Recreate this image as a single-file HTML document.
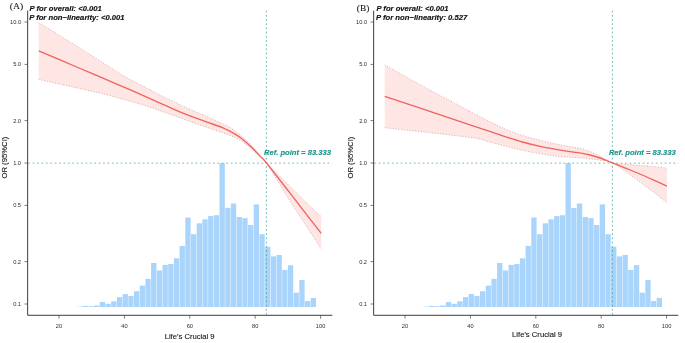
<!DOCTYPE html>
<html><head><meta charset="utf-8"><title>RCS</title>
<style>
html,body{margin:0;padding:0;background:#fff}
svg{display:block}
text{font-family:"Liberation Sans",Arial,sans-serif}
.tk{font-size:5.7px;fill:#2e2e2e}
.ti{font-size:7.7px;fill:#111;stroke:#111;stroke-width:0.1px}
.pl{font-family:"Liberation Serif","Times New Roman",serif;font-size:8.6px;fill:#1a1a1a;stroke:#1a1a1a;stroke-width:0.1px}
.pv{font-size:7.4px;font-weight:bold;font-style:italic;fill:#111;stroke:#111;stroke-width:0.15px}
.rf{font-size:7.4px;font-weight:bold;font-style:italic;fill:#1F958C;stroke:#1F958C;stroke-width:0.15px}
</style></head><body>
<svg width="685" height="343" viewBox="0 0 685 343">
<rect width="685" height="343" fill="#fff"/>
<rect x="82.70" y="305.9" width="5.30" height="1.1" fill="#A9D4FB"/>
<rect x="88.40" y="306.2" width="5.30" height="0.8" fill="#A9D4FB"/>
<rect x="94.10" y="305.5" width="5.30" height="1.5" fill="#A9D4FB"/>
<rect x="99.80" y="302.0" width="5.30" height="5.0" fill="#A9D4FB"/>
<rect x="105.50" y="303.8" width="5.30" height="3.2" fill="#A9D4FB"/>
<rect x="111.20" y="301.3" width="5.30" height="5.7" fill="#A9D4FB"/>
<rect x="116.90" y="297.1" width="5.30" height="9.9" fill="#A9D4FB"/>
<rect x="122.60" y="294.0" width="5.30" height="13.0" fill="#A9D4FB"/>
<rect x="128.30" y="295.9" width="5.30" height="11.1" fill="#A9D4FB"/>
<rect x="134.00" y="291.2" width="5.30" height="15.8" fill="#A9D4FB"/>
<rect x="139.70" y="285.7" width="5.30" height="21.3" fill="#A9D4FB"/>
<rect x="145.40" y="278.9" width="5.30" height="28.1" fill="#A9D4FB"/>
<rect x="151.10" y="263.0" width="5.30" height="44.0" fill="#A9D4FB"/>
<rect x="156.80" y="270.5" width="5.30" height="36.5" fill="#A9D4FB"/>
<rect x="162.50" y="264.9" width="5.30" height="42.1" fill="#A9D4FB"/>
<rect x="168.20" y="264.0" width="5.30" height="43.0" fill="#A9D4FB"/>
<rect x="173.90" y="258.3" width="5.30" height="48.7" fill="#A9D4FB"/>
<rect x="179.60" y="245.9" width="5.30" height="61.1" fill="#A9D4FB"/>
<rect x="185.30" y="217.5" width="5.30" height="89.5" fill="#A9D4FB"/>
<rect x="191.00" y="234.2" width="5.30" height="72.8" fill="#A9D4FB"/>
<rect x="196.70" y="223.3" width="5.30" height="83.7" fill="#A9D4FB"/>
<rect x="202.40" y="219.3" width="5.30" height="87.7" fill="#A9D4FB"/>
<rect x="208.10" y="216.1" width="5.30" height="90.9" fill="#A9D4FB"/>
<rect x="213.80" y="215.2" width="5.30" height="91.8" fill="#A9D4FB"/>
<rect x="219.50" y="163.1" width="5.30" height="143.9" fill="#A9D4FB"/>
<rect x="225.20" y="207.9" width="5.30" height="99.1" fill="#A9D4FB"/>
<rect x="230.90" y="203.5" width="5.30" height="103.5" fill="#A9D4FB"/>
<rect x="236.60" y="217.0" width="5.30" height="90.0" fill="#A9D4FB"/>
<rect x="242.30" y="218.2" width="5.30" height="88.8" fill="#A9D4FB"/>
<rect x="248.00" y="225.0" width="5.30" height="82.0" fill="#A9D4FB"/>
<rect x="253.70" y="204.4" width="5.30" height="102.6" fill="#A9D4FB"/>
<rect x="259.40" y="234.2" width="5.30" height="72.8" fill="#A9D4FB"/>
<rect x="265.10" y="246.8" width="5.30" height="60.2" fill="#A9D4FB"/>
<rect x="270.80" y="256.4" width="5.30" height="50.6" fill="#A9D4FB"/>
<rect x="276.50" y="255.0" width="5.30" height="52.0" fill="#A9D4FB"/>
<rect x="282.20" y="269.9" width="5.30" height="37.1" fill="#A9D4FB"/>
<rect x="287.90" y="265.2" width="5.30" height="41.8" fill="#A9D4FB"/>
<rect x="293.60" y="292.7" width="5.30" height="14.3" fill="#A9D4FB"/>
<rect x="299.30" y="280.0" width="5.30" height="27.0" fill="#A9D4FB"/>
<rect x="305.00" y="301.1" width="5.30" height="5.9" fill="#A9D4FB"/>
<rect x="310.70" y="297.9" width="5.30" height="9.1" fill="#A9D4FB"/>
<rect x="76.80" y="306.5" width="5.70" height="0.5" fill="#A9D4FB" opacity="0.5"/>
<path d="M38.7 22.6 C45.8 27.0 71.1 42.6 81.3 49.0 C91.5 55.4 94.5 57.3 100.0 60.8 C105.5 64.3 109.7 67.2 114.6 70.2 C119.5 73.2 124.3 76.3 129.2 79.0 C134.1 81.7 138.9 84.1 143.8 86.6 C148.7 89.1 153.5 91.8 158.4 94.2 C163.3 96.6 167.7 98.7 173.0 101.2 C178.3 103.7 184.2 106.7 190.0 109.3 C195.8 111.9 201.7 114.2 207.5 116.8 C213.3 119.4 220.6 122.6 225.0 124.8 C229.4 127.0 230.9 128.0 233.8 130.0 C236.7 132.0 239.6 134.3 242.5 136.9 C245.4 139.5 248.4 142.2 251.3 145.3 C254.2 148.4 257.5 152.4 260.0 155.3 C262.5 158.2 258.4 154.8 266.5 163.0 C274.6 171.2 299.3 195.7 308.4 204.6 C317.5 213.5 319.1 214.6 321.2 216.6 L321.2 248.7 C316.4 241.3 301.4 218.9 292.3 204.6 C283.2 190.3 271.9 170.9 266.5 163.0 C261.1 155.1 262.5 159.3 260.0 156.9 C257.5 154.5 254.2 151.3 251.3 148.8 C248.4 146.3 245.4 143.8 242.5 141.8 C239.6 139.8 237.1 138.4 233.8 136.9 C230.6 135.4 227.2 134.4 223.0 132.9 C218.8 131.4 213.3 129.6 208.4 127.9 C203.5 126.2 198.7 124.6 193.8 122.9 C188.9 121.2 184.1 119.3 179.2 117.6 C174.3 115.8 169.5 114.1 164.6 112.4 C159.7 110.7 155.9 109.1 150.0 107.2 C144.1 105.3 137.5 103.3 129.2 101.0 C120.9 98.7 115.1 96.8 100.0 93.2 C84.9 89.6 48.9 81.7 38.7 79.4 Z" fill="#FDE4E1" fill-opacity="0.92"/>
<path d="M38.7 22.6 C45.8 27.0 71.1 42.6 81.3 49.0 C91.5 55.4 94.5 57.3 100.0 60.8 C105.5 64.3 109.7 67.2 114.6 70.2 C119.5 73.2 124.3 76.3 129.2 79.0 C134.1 81.7 138.9 84.1 143.8 86.6 C148.7 89.1 153.5 91.8 158.4 94.2 C163.3 96.6 167.7 98.7 173.0 101.2 C178.3 103.7 184.2 106.7 190.0 109.3 C195.8 111.9 201.7 114.2 207.5 116.8 C213.3 119.4 220.6 122.6 225.0 124.8 C229.4 127.0 230.9 128.0 233.8 130.0 C236.7 132.0 239.6 134.3 242.5 136.9 C245.4 139.5 248.4 142.2 251.3 145.3 C254.2 148.4 257.5 152.4 260.0 155.3 C262.5 158.2 258.4 154.8 266.5 163.0 C274.6 171.2 299.3 195.7 308.4 204.6 C317.5 213.5 319.1 214.6 321.2 216.6" fill="none" stroke="#D39FA2" stroke-width="0.85" stroke-dasharray="1.0 1.8"/>
<path d="M38.7 79.4 C48.9 81.7 84.9 89.6 100.0 93.2 C115.1 96.8 120.9 98.7 129.2 101.0 C137.5 103.3 144.1 105.3 150.0 107.2 C155.9 109.1 159.7 110.7 164.6 112.4 C169.5 114.1 174.3 115.8 179.2 117.6 C184.1 119.3 188.9 121.2 193.8 122.9 C198.7 124.6 203.5 126.2 208.4 127.9 C213.3 129.6 218.8 131.4 223.0 132.9 C227.2 134.4 230.6 135.4 233.8 136.9 C237.1 138.4 239.6 139.8 242.5 141.8 C245.4 143.8 248.4 146.3 251.3 148.8 C254.2 151.3 257.5 154.5 260.0 156.9 C262.5 159.3 261.1 155.1 266.5 163.0 C271.9 170.9 283.2 190.3 292.3 204.6 C301.4 218.9 316.4 241.3 321.2 248.7" fill="none" stroke="#D39FA2" stroke-width="0.85" stroke-dasharray="1.0 1.8"/>
<line x1="27.65" y1="163.15" x2="332.3" y2="163.15" stroke="#78BDB6" stroke-width="1.0" stroke-dasharray="1.8 2.6" stroke-dashoffset="-0.6"/>
<line x1="266.4" y1="10.6" x2="266.4" y2="315.3" stroke="#3A9E9C" stroke-width="0.7" stroke-dasharray="1.9 2.3"/>
<path d="M38.7 50.8 C45.8 53.8 71.1 64.7 81.3 69.0 C91.5 73.3 92.0 73.5 100.0 76.9 C108.0 80.3 120.9 85.7 129.2 89.3 C137.5 92.9 144.1 96.0 150.0 98.7 C155.9 101.4 159.7 103.1 164.6 105.2 C169.5 107.3 174.3 109.6 179.2 111.6 C184.1 113.6 188.9 115.5 193.8 117.3 C198.7 119.1 203.5 120.8 208.4 122.6 C213.3 124.3 218.8 126.0 223.0 127.8 C227.2 129.6 230.6 131.5 233.8 133.4 C237.1 135.3 239.6 136.9 242.5 139.2 C245.4 141.5 248.4 144.2 251.3 147.0 C254.2 149.8 257.5 153.4 260.0 156.1 C262.5 158.8 260.0 154.9 266.5 163.0 C273.0 171.1 289.8 192.9 298.9 204.6 C308.0 216.3 317.5 228.5 321.2 233.3" fill="none" stroke="#F0635F" stroke-width="1.35" stroke-linejoin="round"/>
<path d="M27.65 10.6 V315.3 H332.3" fill="none" stroke="#333" stroke-width="0.95"/>
<line x1="24.549999999999997" y1="22.0" x2="27.65" y2="22.0" stroke="#444" stroke-width="0.7"/>
<text x="21.049999999999997" y="23.9" text-anchor="end" class="tk">10.0</text>
<line x1="24.549999999999997" y1="64.4" x2="27.65" y2="64.4" stroke="#444" stroke-width="0.7"/>
<text x="21.049999999999997" y="66.3" text-anchor="end" class="tk">5.0</text>
<line x1="24.549999999999997" y1="120.6" x2="27.65" y2="120.6" stroke="#444" stroke-width="0.7"/>
<text x="21.049999999999997" y="122.5" text-anchor="end" class="tk">2.0</text>
<line x1="24.549999999999997" y1="163.0" x2="27.65" y2="163.0" stroke="#444" stroke-width="0.7"/>
<text x="21.049999999999997" y="164.9" text-anchor="end" class="tk">1.0</text>
<line x1="24.549999999999997" y1="205.4" x2="27.65" y2="205.4" stroke="#444" stroke-width="0.7"/>
<text x="21.049999999999997" y="207.3" text-anchor="end" class="tk">0.5</text>
<line x1="24.549999999999997" y1="261.6" x2="27.65" y2="261.6" stroke="#444" stroke-width="0.7"/>
<text x="21.049999999999997" y="263.5" text-anchor="end" class="tk">0.2</text>
<line x1="24.549999999999997" y1="304.0" x2="27.65" y2="304.0" stroke="#444" stroke-width="0.7"/>
<text x="21.049999999999997" y="305.9" text-anchor="end" class="tk">0.1</text>
<line x1="59.0" y1="315.3" x2="59.0" y2="318.7" stroke="#444" stroke-width="0.7"/>
<text x="59.0" y="327.5" text-anchor="middle" class="tk">20</text>
<line x1="124.4" y1="315.3" x2="124.4" y2="318.7" stroke="#444" stroke-width="0.7"/>
<text x="124.4" y="327.5" text-anchor="middle" class="tk">40</text>
<line x1="189.8" y1="315.3" x2="189.8" y2="318.7" stroke="#444" stroke-width="0.7"/>
<text x="189.8" y="327.5" text-anchor="middle" class="tk">60</text>
<line x1="255.2" y1="315.3" x2="255.2" y2="318.7" stroke="#444" stroke-width="0.7"/>
<text x="255.2" y="327.5" text-anchor="middle" class="tk">80</text>
<line x1="320.6" y1="315.3" x2="320.6" y2="318.7" stroke="#444" stroke-width="0.7"/>
<text x="320.6" y="327.5" text-anchor="middle" class="tk">100</text>
<text x="189.65" y="339.0" text-anchor="middle" class="ti" textLength="50.0" lengthAdjust="spacingAndGlyphs">Life's Crucial 9</text>
<text transform="translate(7.3 157.6) rotate(-90)" text-anchor="middle" class="ti" textLength="42.0" lengthAdjust="spacingAndGlyphs">OR (95%CI)</text>
<text x="9.8" y="8.9" class="pl" style="font-size:9.1px" textLength="13.4" lengthAdjust="spacingAndGlyphs">(A)</text>
<text x="29.6" y="10.9" class="pv" textLength="72.2" lengthAdjust="spacingAndGlyphs">P for overall: &lt;0.001</text>
<text x="29.2" y="19.6" class="pv" textLength="95.4" lengthAdjust="spacingAndGlyphs">P for non−linearity: &lt;0.001</text>
<text x="264.0" y="155.4" class="rf" textLength="66.9" lengthAdjust="spacingAndGlyphs">Ref. point = 83.333</text>
<rect x="428.70" y="305.9" width="5.30" height="1.1" fill="#A9D4FB"/>
<rect x="434.40" y="306.2" width="5.30" height="0.8" fill="#A9D4FB"/>
<rect x="440.10" y="305.5" width="5.30" height="1.5" fill="#A9D4FB"/>
<rect x="445.80" y="302.0" width="5.30" height="5.0" fill="#A9D4FB"/>
<rect x="451.50" y="303.8" width="5.30" height="3.2" fill="#A9D4FB"/>
<rect x="457.20" y="301.3" width="5.30" height="5.7" fill="#A9D4FB"/>
<rect x="462.90" y="297.1" width="5.30" height="9.9" fill="#A9D4FB"/>
<rect x="468.60" y="294.0" width="5.30" height="13.0" fill="#A9D4FB"/>
<rect x="474.30" y="295.9" width="5.30" height="11.1" fill="#A9D4FB"/>
<rect x="480.00" y="291.2" width="5.30" height="15.8" fill="#A9D4FB"/>
<rect x="485.70" y="285.7" width="5.30" height="21.3" fill="#A9D4FB"/>
<rect x="491.40" y="278.9" width="5.30" height="28.1" fill="#A9D4FB"/>
<rect x="497.10" y="263.0" width="5.30" height="44.0" fill="#A9D4FB"/>
<rect x="502.80" y="270.5" width="5.30" height="36.5" fill="#A9D4FB"/>
<rect x="508.50" y="264.9" width="5.30" height="42.1" fill="#A9D4FB"/>
<rect x="514.20" y="264.0" width="5.30" height="43.0" fill="#A9D4FB"/>
<rect x="519.90" y="258.3" width="5.30" height="48.7" fill="#A9D4FB"/>
<rect x="525.60" y="245.9" width="5.30" height="61.1" fill="#A9D4FB"/>
<rect x="531.30" y="217.5" width="5.30" height="89.5" fill="#A9D4FB"/>
<rect x="537.00" y="234.2" width="5.30" height="72.8" fill="#A9D4FB"/>
<rect x="542.70" y="223.3" width="5.30" height="83.7" fill="#A9D4FB"/>
<rect x="548.40" y="219.3" width="5.30" height="87.7" fill="#A9D4FB"/>
<rect x="554.10" y="216.1" width="5.30" height="90.9" fill="#A9D4FB"/>
<rect x="559.80" y="215.2" width="5.30" height="91.8" fill="#A9D4FB"/>
<rect x="565.50" y="163.1" width="5.30" height="143.9" fill="#A9D4FB"/>
<rect x="571.20" y="207.9" width="5.30" height="99.1" fill="#A9D4FB"/>
<rect x="576.90" y="203.5" width="5.30" height="103.5" fill="#A9D4FB"/>
<rect x="582.60" y="217.0" width="5.30" height="90.0" fill="#A9D4FB"/>
<rect x="588.30" y="218.2" width="5.30" height="88.8" fill="#A9D4FB"/>
<rect x="594.00" y="225.0" width="5.30" height="82.0" fill="#A9D4FB"/>
<rect x="599.70" y="204.4" width="5.30" height="102.6" fill="#A9D4FB"/>
<rect x="605.40" y="234.2" width="5.30" height="72.8" fill="#A9D4FB"/>
<rect x="611.10" y="246.8" width="5.30" height="60.2" fill="#A9D4FB"/>
<rect x="616.80" y="256.4" width="5.30" height="50.6" fill="#A9D4FB"/>
<rect x="622.50" y="255.0" width="5.30" height="52.0" fill="#A9D4FB"/>
<rect x="628.20" y="269.9" width="5.30" height="37.1" fill="#A9D4FB"/>
<rect x="633.90" y="265.2" width="5.30" height="41.8" fill="#A9D4FB"/>
<rect x="639.60" y="292.7" width="5.30" height="14.3" fill="#A9D4FB"/>
<rect x="645.30" y="280.0" width="5.30" height="27.0" fill="#A9D4FB"/>
<rect x="651.00" y="301.1" width="5.30" height="5.9" fill="#A9D4FB"/>
<rect x="656.70" y="297.9" width="5.30" height="9.1" fill="#A9D4FB"/>
<rect x="422.80" y="306.5" width="5.70" height="0.5" fill="#A9D4FB" opacity="0.5"/>
<path d="M384.7 64.9 C392.2 69.1 416.2 82.6 429.9 90.0 C443.6 97.4 460.0 105.9 466.7 109.5 C473.4 113.1 466.5 109.8 470.0 111.6 C473.5 113.4 481.7 117.6 487.5 120.5 C493.3 123.4 499.2 126.4 505.0 128.9 C510.8 131.4 516.7 133.5 522.5 135.4 C528.3 137.3 534.1 138.8 540.0 140.3 C545.9 141.8 551.8 143.1 557.6 144.3 C563.5 145.5 571.0 146.7 575.1 147.5 C579.2 148.3 580.0 148.2 582.5 148.9 C585.0 149.6 587.1 150.3 590.0 151.5 C592.9 152.7 596.3 154.1 600.0 156.0 C603.7 157.9 606.6 161.3 612.4 162.8 C618.2 164.3 628.3 164.4 635.0 165.0 C641.7 165.6 647.3 165.9 652.6 166.4 C657.9 166.9 664.5 167.9 666.9 168.2 L666.9 202.6 C664.5 200.8 657.9 195.6 652.6 191.5 C647.3 187.4 641.7 183.1 635.0 178.3 C628.3 173.5 618.2 165.8 612.4 162.8 C606.6 159.8 603.7 160.9 600.0 160.3 C596.3 159.7 592.9 159.3 590.0 159.0 C587.1 158.7 585.0 158.4 582.5 158.2 C580.0 158.0 579.2 157.9 575.1 157.6 C571.0 157.3 563.5 157.0 557.6 156.4 C551.8 155.8 545.9 154.8 540.0 153.8 C534.1 152.8 528.3 151.6 522.5 150.3 C516.7 149.0 510.8 147.4 505.0 145.9 C499.2 144.4 493.3 142.9 487.5 141.5 C481.7 140.1 487.1 139.7 470.0 137.4 C452.9 135.1 398.9 129.3 384.7 127.7 Z" fill="#FDE4E1" fill-opacity="0.92"/>
<path d="M384.7 64.9 C392.2 69.1 416.2 82.6 429.9 90.0 C443.6 97.4 460.0 105.9 466.7 109.5 C473.4 113.1 466.5 109.8 470.0 111.6 C473.5 113.4 481.7 117.6 487.5 120.5 C493.3 123.4 499.2 126.4 505.0 128.9 C510.8 131.4 516.7 133.5 522.5 135.4 C528.3 137.3 534.1 138.8 540.0 140.3 C545.9 141.8 551.8 143.1 557.6 144.3 C563.5 145.5 571.0 146.7 575.1 147.5 C579.2 148.3 580.0 148.2 582.5 148.9 C585.0 149.6 587.1 150.3 590.0 151.5 C592.9 152.7 596.3 154.1 600.0 156.0 C603.7 157.9 606.6 161.3 612.4 162.8 C618.2 164.3 628.3 164.4 635.0 165.0 C641.7 165.6 647.3 165.9 652.6 166.4 C657.9 166.9 664.5 167.9 666.9 168.2" fill="none" stroke="#D39FA2" stroke-width="0.85" stroke-dasharray="1.0 1.8"/>
<path d="M384.7 127.7 C398.9 129.3 452.9 135.1 470.0 137.4 C487.1 139.7 481.7 140.1 487.5 141.5 C493.3 142.9 499.2 144.4 505.0 145.9 C510.8 147.4 516.7 149.0 522.5 150.3 C528.3 151.6 534.1 152.8 540.0 153.8 C545.9 154.8 551.8 155.8 557.6 156.4 C563.5 157.0 571.0 157.3 575.1 157.6 C579.2 157.9 580.0 158.0 582.5 158.2 C585.0 158.4 587.1 158.7 590.0 159.0 C592.9 159.3 596.3 159.7 600.0 160.3 C603.7 160.9 606.6 159.8 612.4 162.8 C618.2 165.8 628.3 173.5 635.0 178.3 C641.7 183.1 647.3 187.4 652.6 191.5 C657.9 195.6 664.5 200.8 666.9 202.6" fill="none" stroke="#D39FA2" stroke-width="0.85" stroke-dasharray="1.0 1.8"/>
<line x1="373.65" y1="163.15" x2="678.3" y2="163.15" stroke="#78BDB6" stroke-width="1.0" stroke-dasharray="1.8 2.6" stroke-dashoffset="-0.6"/>
<line x1="612.4" y1="10.6" x2="612.4" y2="315.3" stroke="#3A9E9C" stroke-width="0.7" stroke-dasharray="1.9 2.3"/>
<path d="M384.7 96.4 C391.4 98.6 410.5 104.8 424.7 109.6 C438.9 114.3 459.5 121.4 470.0 124.9 C480.5 128.4 481.7 128.8 487.5 130.7 C493.3 132.6 499.2 134.7 505.0 136.6 C510.8 138.5 516.7 140.4 522.5 142.0 C528.3 143.6 534.1 145.1 540.0 146.4 C545.9 147.7 551.8 148.6 557.6 149.6 C563.5 150.6 571.0 151.8 575.1 152.4 C579.2 153.0 580.0 152.9 582.5 153.3 C585.0 153.7 587.1 154.2 590.0 155.0 C592.9 155.8 596.3 156.7 600.0 158.0 C603.7 159.3 606.6 160.5 612.4 162.8 C618.2 165.1 628.3 169.2 635.0 172.0 C641.7 174.8 647.3 177.2 652.6 179.6 C657.9 182.0 664.5 185.1 666.9 186.2" fill="none" stroke="#F0635F" stroke-width="1.35" stroke-linejoin="round"/>
<path d="M373.65 10.6 V315.3 H678.3" fill="none" stroke="#333" stroke-width="0.95"/>
<line x1="370.54999999999995" y1="22.0" x2="373.65" y2="22.0" stroke="#444" stroke-width="0.7"/>
<text x="367.04999999999995" y="23.9" text-anchor="end" class="tk">10.0</text>
<line x1="370.54999999999995" y1="64.4" x2="373.65" y2="64.4" stroke="#444" stroke-width="0.7"/>
<text x="367.04999999999995" y="66.3" text-anchor="end" class="tk">5.0</text>
<line x1="370.54999999999995" y1="120.6" x2="373.65" y2="120.6" stroke="#444" stroke-width="0.7"/>
<text x="367.04999999999995" y="122.5" text-anchor="end" class="tk">2.0</text>
<line x1="370.54999999999995" y1="163.0" x2="373.65" y2="163.0" stroke="#444" stroke-width="0.7"/>
<text x="367.04999999999995" y="164.9" text-anchor="end" class="tk">1.0</text>
<line x1="370.54999999999995" y1="205.4" x2="373.65" y2="205.4" stroke="#444" stroke-width="0.7"/>
<text x="367.04999999999995" y="207.3" text-anchor="end" class="tk">0.5</text>
<line x1="370.54999999999995" y1="261.6" x2="373.65" y2="261.6" stroke="#444" stroke-width="0.7"/>
<text x="367.04999999999995" y="263.5" text-anchor="end" class="tk">0.2</text>
<line x1="370.54999999999995" y1="304.0" x2="373.65" y2="304.0" stroke="#444" stroke-width="0.7"/>
<text x="367.04999999999995" y="305.9" text-anchor="end" class="tk">0.1</text>
<line x1="405.0" y1="315.3" x2="405.0" y2="318.7" stroke="#444" stroke-width="0.7"/>
<text x="405.0" y="327.5" text-anchor="middle" class="tk">20</text>
<line x1="470.4" y1="315.3" x2="470.4" y2="318.7" stroke="#444" stroke-width="0.7"/>
<text x="470.4" y="327.5" text-anchor="middle" class="tk">40</text>
<line x1="535.8" y1="315.3" x2="535.8" y2="318.7" stroke="#444" stroke-width="0.7"/>
<text x="535.8" y="327.5" text-anchor="middle" class="tk">60</text>
<line x1="601.2" y1="315.3" x2="601.2" y2="318.7" stroke="#444" stroke-width="0.7"/>
<text x="601.2" y="327.5" text-anchor="middle" class="tk">80</text>
<line x1="666.6" y1="315.3" x2="666.6" y2="318.7" stroke="#444" stroke-width="0.7"/>
<text x="666.6" y="327.5" text-anchor="middle" class="tk">100</text>
<text x="537.05" y="337.3" text-anchor="middle" class="ti" textLength="50.0" lengthAdjust="spacingAndGlyphs">Life's Crucial 9</text>
<text transform="translate(353.3 157.6) rotate(-90)" text-anchor="middle" class="ti" textLength="42.0" lengthAdjust="spacingAndGlyphs">OR (95%CI)</text>
<text x="356.8" y="10.5" class="pl" style="font-size:8.7px" textLength="12.5" lengthAdjust="spacingAndGlyphs">(B)</text>
<text x="376.40000000000003" y="10.9" class="pv" textLength="72.2" lengthAdjust="spacingAndGlyphs">P for overall: &lt;0.001</text>
<text x="376.0" y="19.6" class="pv" textLength="91.3" lengthAdjust="spacingAndGlyphs">P for non−linearity: 0.527</text>
<text x="608.9" y="155.1" class="rf" textLength="66.9" lengthAdjust="spacingAndGlyphs">Ref. point = 83.333</text>
</svg>
</body></html>
